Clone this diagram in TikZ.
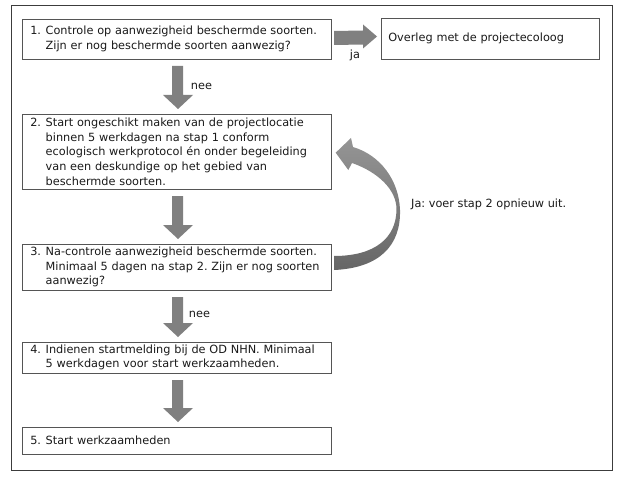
\documentclass[tikz,border=0pt]{standalone}
\usepackage{fontspec}
\setmainfont{DejaVu Sans}
\usetikzlibrary{calc}
\frenchspacing
\definecolor{txt}{HTML}{1A1A1A}
\definecolor{bord}{HTML}{555555}
\definecolor{frame}{HTML}{3C3C3C}
\definecolor{arrg}{HTML}{808080}
\definecolor{curvtop}{HTML}{959595}
\definecolor{curvbot}{HTML}{666666}
\newlength{\hi}\setlength{\hi}{15.4pt}
\newcommand{\num}[1]{\makebox[\hi][l]{#1}}
\newcommand{\ind}{\hspace*{\hi}}
% vertical block arrow from node #1 (above) to node #2 (below)
\newcommand{\vblock}[2]{%
  \fill[blockarrow] ($(#1.south)+(-4.5,7)$) -- ($(#1.south)+(6.5,7)$)
    -- ($(#2.north)+(6.5,-19)$) -- ($(#2.north)+(16.5,-19)$)
    -- ($(#2.north)+(1.5,-5)$) -- ($(#2.north)+(-13.5,-19)$)
    -- ($(#2.north)+(-4.5,-19)$) -- cycle;}
\tikzset{
  stepbox/.style={draw=bord, line width=0.8pt, fill=white, rectangle,
    anchor=north west, inner xsep=8.3pt, inner ysep=1pt, outer sep=0pt,
    align=left, text width=292.4pt, minimum width=309pt},
  blockarrow/.style={fill=arrg},
  lbl/.style={inner sep=0pt, text=txt}
}
\begin{document}
\begin{tikzpicture}[x=1pt, y=-1pt, font=\fontsize{11.3}{14.7}\selectfont, text=txt]
\fill[white] (0,0) rectangle (629,484);
\useasboundingbox (0,0) rectangle (629,484);
\draw[frame, line width=1pt] (11,6) rectangle (612,470);

\node[stepbox, minimum height=40pt] (b1) at (22,19)
  {\num{1.}Controle op aanwezigheid beschermde soorten.\\\ind Zijn er nog beschermde soorten aanwezig?};
\node[stepbox, minimum height=41pt, minimum width=218pt, text width=203.4pt, inner xsep=7.3pt] (ov) at (381,18)
  {Overleg met de projectecoloog};
\node[stepbox, minimum height=75pt] (b2) at (22,114)
  {\num{2.}Start ongeschikt maken van de projectlocatie\\\ind binnen 5 werkdagen na stap 1 conform\\\ind ecologisch werkprotocol én onder begeleiding\\\ind van een deskundige op het gebied van\\\ind beschermde soorten.};
\node[stepbox, minimum height=46pt] (b3) at (22,244)
  {\num{3.}Na-controle aanwezigheid beschermde soorten.\\\ind Minimaal 5 dagen na stap 2. Zijn er nog soorten\\\ind aanwezig?};
\node[stepbox, minimum height=31pt] (b4) at (22,342)
  {\num{4.}Indienen startmelding bij de OD NHN. Minimaal\\\ind 5 werkdagen voor start werkzaamheden.};
\node[stepbox, minimum height=27pt] (b5) at (22,427)
  {\num{5.}Start werkzaamheden};

% right block arrow b1 -> ov
\fill[blockarrow] ($(b1.east)+(3,-8)$) -- ($(ov.west)+(-18,-8)$)
  -- ($(ov.west)+(-18,-14)$) -- ($(ov.west)+(-4,-2)$)
  -- ($(ov.west)+(-18,10)$) -- ($(ov.west)+(-18,6)$)
  -- ($(b1.east)+(3,6)$) -- cycle;
\node[lbl] (ja) at ($(b1.east)+(24,16)$) {ja};

% down block arrows
\vblock{b1}{b2}
\vblock{b2}{b3}
\vblock{b3}{b4}
\vblock{b4}{b5}
\node[lbl] (nee1) at ($(b1.south)+(25,27)$) {nee};
\node[lbl] (nee2) at ($(b3.south)+(23,24)$) {nee};

% curved arrow from b3 back to b2
\coordinate (t) at (b3.east);
\coordinate (h) at (b2.east);
\shade[top color=curvtop, bottom color=curvbot]
  ($(t)+(3,3)$) .. controls ($(t)+(49,1)$) and ($(t)+(70,-22)$) .. ($(t)+(69,-57)$)
  .. controls ($(t)+(68,-87)$) and ($(h)+(49,3.5)$) .. ($(h)+(22,-4.5)$)
  -- ($(h)+(20,-13.5)$) -- ($(h)+(4.7,1.2)$) -- ($(h)+(17.3,18.5)$)
  -- ($(h)+(21,11.5)$)
  .. controls ($(h)+(47,20.5)$) and ($(t)+(66,-77)$) .. ($(t)+(65.5,-57)$)
  .. controls ($(t)+(65,-29)$) and ($(t)+(44,-11)$) .. ($(t)+(3,-11)$) -- cycle;
\node[lbl, anchor=west] (again) at (411,204) {Ja: voer stap 2 opnieuw uit.};
\end{tikzpicture}
\end{document}
